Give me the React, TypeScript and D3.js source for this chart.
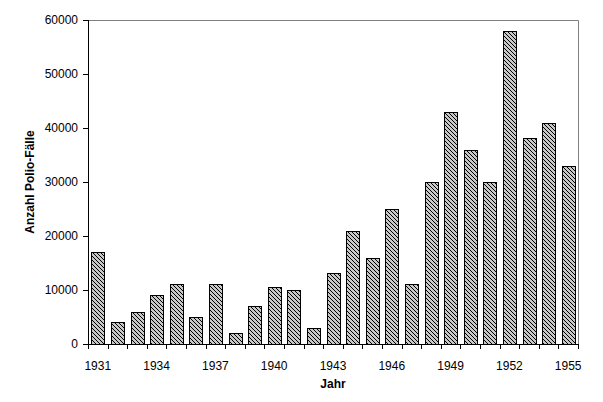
import React from "react";
import * as d3 from "d3";

const years = [1931,1932,1933,1934,1935,1936,1937,1938,1939,1940,1941,1942,1943,1944,1945,1946,1947,1948,1949,1950,1951,1952,1953,1954,1955];
const cases = [17000,4000,5900,9000,11100,5000,11100,2000,7000,10500,10000,2900,13100,20900,16000,25000,11100,30000,43000,36000,30000,58000,38100,41000,33000];
const yTicks = [0,10000,20000,30000,40000,50000,60000];
const labelYears = [1931,1934,1937,1940,1943,1946,1949,1952,1955];

export default function App() {
  const W = 603, H = 402;
  const left = 88, right = 578, top = 20, bottom = 344;
  const x = d3.scaleBand<number>().domain(years).range([left, right]).paddingInner(0.34).paddingOuter(0.17);
  const xStep = d3.scaleBand<number>().domain(years).range([left, right]);
  const y = d3.scaleLinear().domain([0, 60000]).range([bottom, top]);
  const font = "'Liberation Sans', Arial, sans-serif";
  return (
    <svg width={W} height={H} style={{ position: "absolute", left: 0, top: 0, background: "#fff" }}>
      <defs>
        <pattern id="hatch" width="4" height="4" patternUnits="userSpaceOnUse">
          <rect width="4" height="4" fill="#c8c8c8" />
          <path d="M-1,-1 L5,5 M-1,3 L1,5 M3,-1 L5,1" stroke="#000" strokeWidth="1" shapeRendering="crispEdges" />
        </pattern>
      </defs>
      <rect x={0} y={0} width={W} height={H} fill="#fff" />
      {/* plot border top and right */}
      <path d={`M${left},${top + 0.5} H${right + 0.5} V${bottom}`} fill="none" stroke="#808080" strokeWidth={1} />
      {years.map((yr, i) => (
        <rect key={yr} x={Math.round(x(yr)!) + 0.5} y={Math.round(y(cases[i])) + 0.5}
          width={Math.round(x.bandwidth())} height={Math.round(bottom - y(cases[i]))}
          fill="url(#hatch)" stroke="#000" strokeWidth={1} />
      ))}
      {/* y axis */}
      <line x1={left + 0.5} x2={left + 0.5} y1={top} y2={bottom + 0.5} stroke="#000" />
      {yTicks.map(t => (
        <g key={t}>
          <line x1={left - 5} x2={left + 0.5} y1={Math.round(y(t)) + 0.5} y2={Math.round(y(t)) + 0.5} stroke="#000" />
          <text x={left - 10} y={y(t)} dy="0.35em" textAnchor="end" fontFamily={font} fontSize={12}>{t}</text>
        </g>
      ))}
      {/* x axis */}
      <line x1={left} x2={right + 1} y1={bottom + 0.5} y2={bottom + 0.5} stroke="#000" />
      {years.concat([1956]).map((yr, i) => {
        const px = Math.round(left + i * xStep.step()) + 0.5;
        return <line key={yr} x1={px} x2={px} y1={bottom} y2={bottom + 5} stroke="#000" />;
      })}
      {labelYears.map(yr => (
        <text key={yr} x={xStep(yr)! + xStep.bandwidth() / 2} y={370} textAnchor="middle" fontFamily={font} fontSize={12}>{yr}</text>
      ))}
      <text x={333} y={388} textAnchor="middle" fontFamily={font} fontSize={12} fontWeight="bold">Jahr</text>
      <text transform={`translate(34,182) rotate(-90)`} textAnchor="middle" fontFamily={font} fontSize={12} fontWeight="bold">Anzahl Polio-Fälle</text>
    </svg>
  );
}
